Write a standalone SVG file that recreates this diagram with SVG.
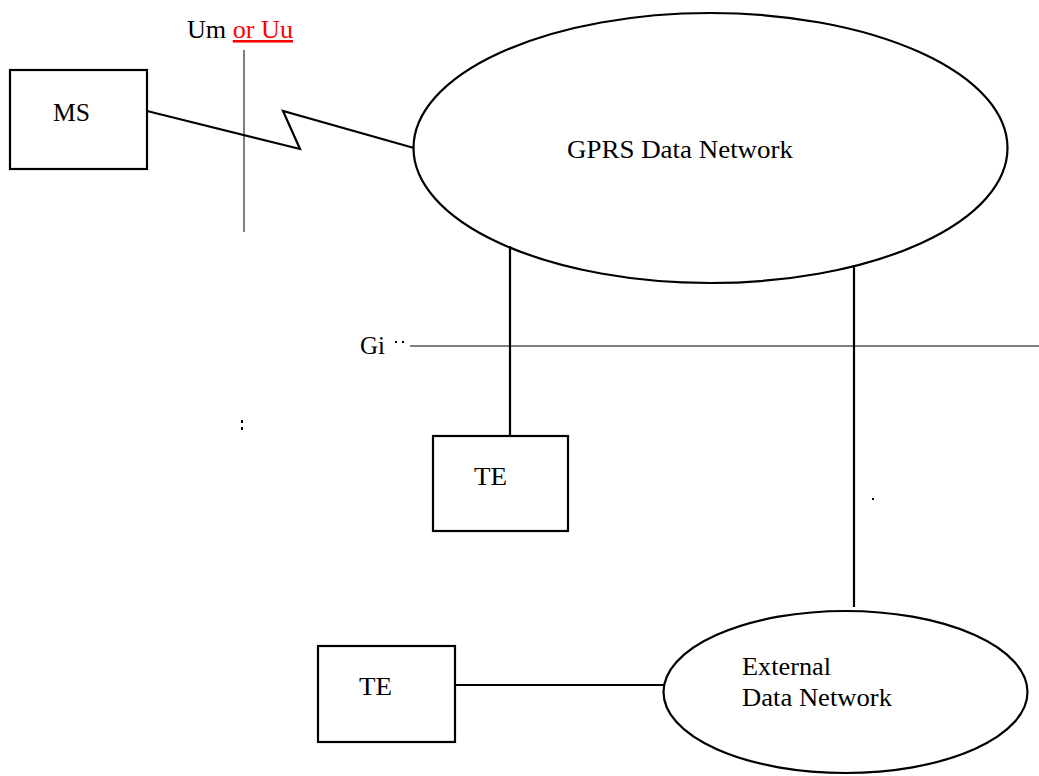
<svg xmlns="http://www.w3.org/2000/svg" width="1039" height="776" viewBox="0 0 1039 776">
<style>
.shape{fill:none;stroke:#000;stroke-width:2.2}
.thin{fill:none;stroke:#000;stroke-width:1}
.t{font-family:"Liberation Serif","Times New Roman",serif;font-size:25.5px;fill:#000}
.red{fill:#ff0000;text-decoration:underline}
</style>
<rect width="1039" height="776" fill="#fff"/>
<g id="connectors">
<polyline class="shape" points="147,111 300,149 283,111 414,148"/>
<line class="shape" x1="510" y1="246" x2="510" y2="436"/>
<line class="shape" x1="854" y1="265" x2="854" y2="607"/>
<line class="shape" x1="455" y1="685" x2="664" y2="685"/>
</g>
<g id="interface-um">
<line class="thin" x1="244" y1="50" x2="244" y2="232"/>
<text class="t" x="187" y="38" textLength="106" lengthAdjust="spacingAndGlyphs">Um <tspan class="red">or Uu</tspan></text>
</g>
<g id="interface-gi">
<line class="thin" x1="410" y1="346" x2="1039" y2="346"/>
<text class="t" x="360" y="354" textLength="25" lengthAdjust="spacingAndGlyphs">Gi</text>
<rect x="395" y="341" width="2" height="2" fill="#000"/>
<rect x="402" y="341" width="2" height="2" fill="#000"/>
</g>
<g id="dots">
<rect x="241" y="420" width="2" height="3" fill="#000"/>
<rect x="241" y="427" width="2" height="3" fill="#000"/>
<rect x="872" y="498" width="2" height="2" fill="#000"/>
</g>
<g id="ms">
<rect class="shape" x="10" y="70" width="137" height="99"/>
<text class="t" x="53" y="121" textLength="37" lengthAdjust="spacingAndGlyphs">MS</text>
</g>
<g id="gprs">
<ellipse class="shape" cx="710.5" cy="148" rx="297" ry="135"/>
<text class="t" x="567" y="158" textLength="226" lengthAdjust="spacingAndGlyphs">GPRS Data Network</text>
</g>
<g id="te1">
<rect class="shape" x="433" y="436" width="135" height="95"/>
<text class="t" x="474" y="485" textLength="33" lengthAdjust="spacingAndGlyphs">TE</text>
</g>
<g id="te2">
<rect class="shape" x="318" y="646" width="137" height="96"/>
<text class="t" x="359" y="695" textLength="33" lengthAdjust="spacingAndGlyphs">TE</text>
</g>
<g id="external">
<ellipse class="shape" cx="845.5" cy="692" rx="182" ry="81"/>
<text class="t" x="742" y="675" textLength="89" lengthAdjust="spacingAndGlyphs">External</text>
<text class="t" x="742" y="706" textLength="150" lengthAdjust="spacingAndGlyphs">Data Network</text>
</g>
</svg>
